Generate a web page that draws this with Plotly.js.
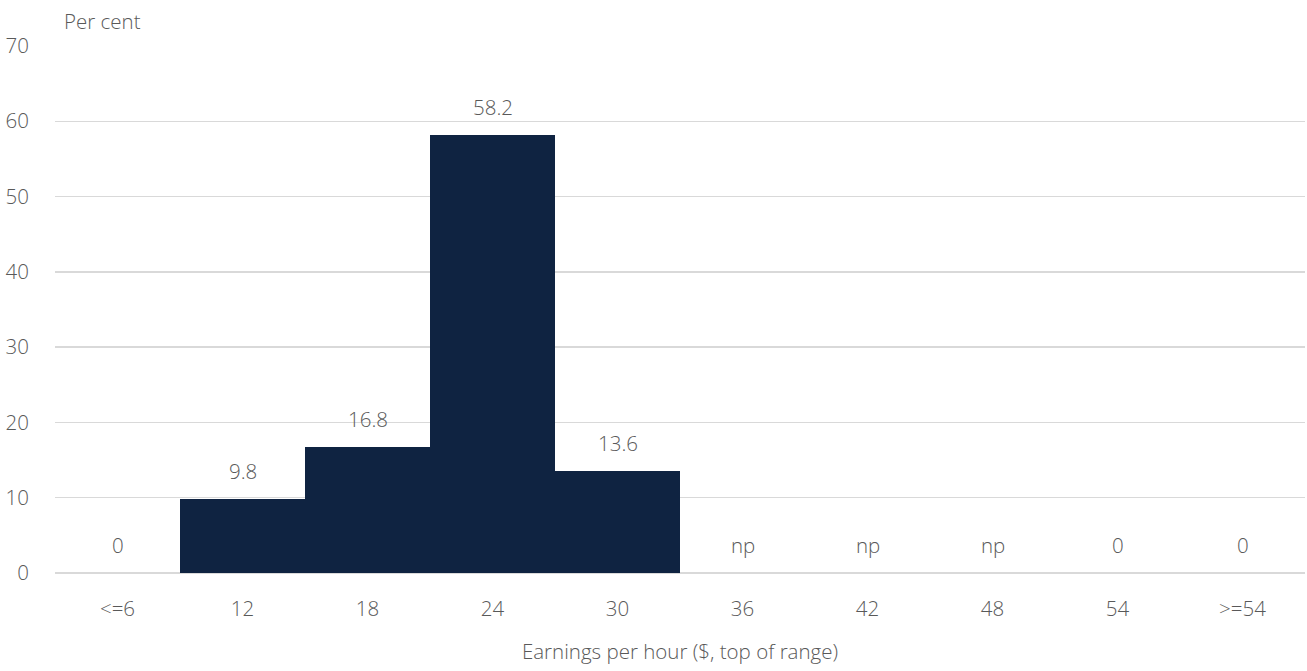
<!DOCTYPE html>
<html>
<head>
<meta charset="utf-8">
<script src="https://cdn.plot.ly/plotly-3.0.1.min.js"></script>
<style>html,body{margin:0;padding:0;background:#fff;}#chart{width:1307px;height:671px;}</style>
</head>
<body>
<div id="chart"></div>
<script>
const categories = ["<=6", "12", "18", "24", "30", "36", "42", "48", "54", ">=54"];
const values = [0, 9.8, 16.8, 58.2, 13.6, null, null, null, 0, 0];
const labels = ["0", "9.8", "16.8", "58.2", "13.6", "np", "np", "np", "0", "0"];
const yTicks = [0, 10, 20, 30, 40, 50, 60, 70];

const FONT = "Open Sans, Segoe UI, sans-serif";
const GREY = "#595959";
const F = (size) => ({family: FONT, size: size, color: GREY, weight: 300});

const bars = {
  type: "bar",
  x: categories,
  y: values,
  marker: {color: "#0f2341", line: {width: 0}},
  hoverinfo: "skip",
  showlegend: false
};

const annotations = categories.map((c, i) => ({
  x: i, y: values[i] === null ? 0 : values[i],
  xref: "x", yref: "y",
  text: labels[i], showarrow: false,
  yanchor: "bottom", yshift: 12,
  font: F(20.5)
}));
annotations.push({
  xref: "paper", yref: "paper", x: 0.0058, y: 1.0, xanchor: "left", yanchor: "bottom",
  yshift: 9, text: "Per cent", showarrow: false,
  font: F(20.5)
});

const layout = {
  width: 1307, height: 671,
  margin: {l: 55, r: 2, t: 46, b: 98},
  paper_bgcolor: "#fff", plot_bgcolor: "#fff",
  bargap: 0,
  font: F(20.5),
  xaxis: {
    type: "category",
    range: [-0.5, 9.5],
    tickangle: 0,
    tickfont: F(20.5),
    ticks: "outside", ticklen: 17, tickcolor: "rgba(0,0,0,0)",
    showgrid: false, showline: false, zeroline: false,
    title: {text: "Earnings per hour ($, top of range)", font: F(20.5), standoff: 24}
  },
  yaxis: {
    range: [0, 70],
    tickvals: yTicks,
    ticktext: yTicks.map(String),
    tickfont: F(20.5),
    showgrid: true, gridcolor: "#d9d9d9", gridwidth: 1.5,
    zeroline: true, zerolinecolor: "#d9d9d9", zerolinewidth: 2,
    showline: false, ticks: "outside", ticklen: 21, tickcolor: "rgba(0,0,0,0)"
  },
  annotations: annotations
};

Plotly.newPlot("chart", [bars], layout, {displayModeBar: false, staticPlot: true});
</script>
</body>
</html>
